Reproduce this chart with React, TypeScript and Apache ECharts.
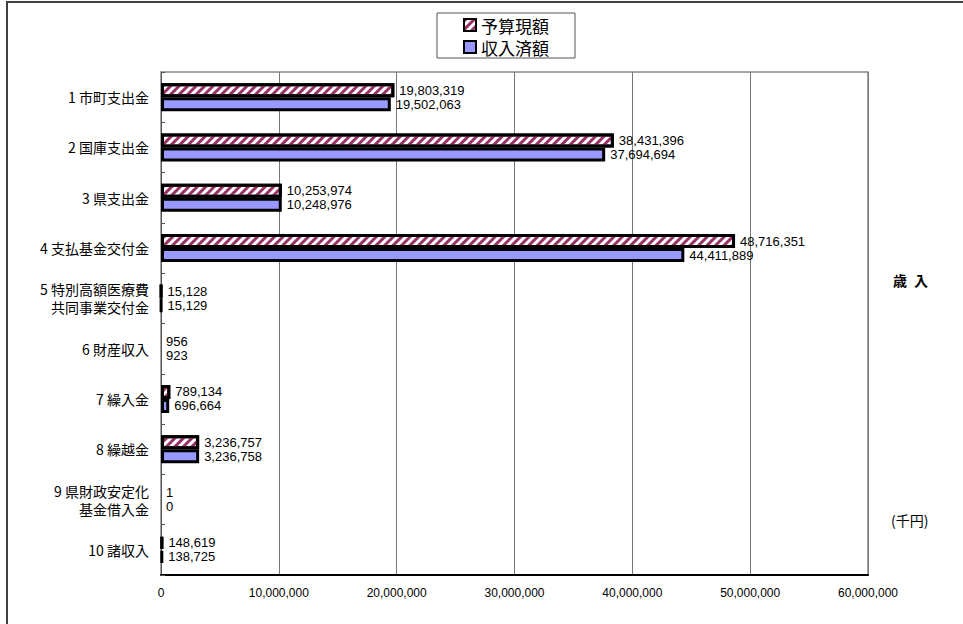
import React, { useEffect, useRef } from "react";
import * as echarts from "echarts";

const categories = [
  "1 市町支出金",
  "2 国庫支出金",
  "3 県支出金",
  "4 支払基金交付金",
  "5 特別高額医療費\n共同事業交付金",
  "6 財産収入",
  "7 繰入金",
  "8 繰越金",
  "9 県財政安定化\n基金借入金",
  "10 諸収入",
];
const budgetValues = [19803319, 38431396, 10253974, 48716351, 15128, 956, 789134, 3236757, 1, 148619];
const receivedValues = [19502063, 37694694, 10248976, 44411889, 15129, 923, 696664, 3236758, 0, 138725];
const seriesNames = ["予算現額", "収入済額"];
const xTicks = [0, 10000000, 20000000, 30000000, 40000000, 50000000, 60000000];

const fmt = (v: number) => v.toLocaleString("en-US");
const CJK = '"Noto Sans CJK JP", sans-serif';
const NUM = '"Liberation Sans", Arial, sans-serif';

export default function App() {
  const ref = useRef<HTMLDivElement>(null);
  useEffect(() => {
    document.body.style.margin = "0";
    document.body.style.overflow = "hidden";
    if (!ref.current) return;
    const chart = echarts.init(ref.current, undefined, { renderer: "svg" });
    const toData = (arr: number[]) =>
      arr.map((v) => (v < 1000 ? { value: v, itemStyle: { borderWidth: 0 } } : { value: v }));
    const label = {
      show: true,
      position: "right" as const,
      distance: 5,
      color: "#000",
      fontSize: 13,
      fontFamily: NUM,
      formatter: (p: any) => fmt(p.value),
    };
    chart.setOption({
      animation: false,
      backgroundColor: "#fff",
      graphic: [
        {
          type: "rect",
          shape: { x: 7, y: 2, width: 2000, height: 2000 },
          style: { fill: "none", stroke: "#404040", lineWidth: 2 },
          silent: true,
        },
        {
          type: "text",
          left: 893,
          top: 273,
          style: { text: "歳", font: `bold 14px ${CJK}`, fill: "#000" },
        },
        {
          type: "text",
          left: 914,
          top: 273,
          style: { text: "入", font: `bold 14px ${CJK}`, fill: "#000" },
        },
        {
          type: "text",
          left: 891,
          top: 513,
          style: { text: "(千円)", font: `14px ${CJK}`, fill: "#000" },
        },
      ],
      legend: {
        left: 437,
        top: 13,
        orient: "vertical",
        padding: [3, 26, 2, 26],
        itemGap: 4,
        itemWidth: 12,
        itemHeight: 12,
        borderColor: "#555",
        borderWidth: 1,
        backgroundColor: "#fff",
        icon: "rect",
        itemStyle: { borderWidth: 2, borderColor: "#000" },
        textStyle: { fontSize: 17, lineHeight: 18, fontFamily: CJK, color: "#000" },
        data: seriesNames,
      },
      grid: {
        left: 161,
        top: 72,
        right: 95,
        bottom: 49,
        show: true,
        borderColor: "#888",
        borderWidth: 1.5,
        containLabel: false,
      },
      xAxis: {
        type: "value",
        min: xTicks[0],
        max: xTicks[xTicks.length - 1],
        interval: xTicks[1] - xTicks[0],
        axisLine: { show: true, lineStyle: { color: "#000", width: 2 } },
        axisTick: { show: false },
        splitLine: { show: true, lineStyle: { color: "#777", width: 1 } },
        axisLabel: {
          margin: 12,
          fontSize: 12,
          fontFamily: NUM,
          color: "#000",
          formatter: (v: number) => fmt(v),
        },
      },
      yAxis: {
        type: "category",
        inverse: true,
        data: categories,
        axisLine: { show: true, lineStyle: { color: "#555", width: 1 } },
        axisTick: { show: true, inside: true, length: 4, lineStyle: { color: "#555" } },
        axisLabel: {
          margin: 12,
          fontSize: 14,
          lineHeight: 18,
          fontFamily: CJK,
          color: "#000",
          align: "right",
        },
      },
      series: [
        {
          name: seriesNames[0],
          type: "bar",
          data: toData(budgetValues),
          barWidth: 14,
          barGap: "0%",
          itemStyle: {
            color: "#fff",
            borderColor: "#000",
            borderWidth: 3,
            decal: {
              symbol: "rect",
              symbolSize: 1,
              color: "#993366",
              dashArrayX: [1, 0],
              dashArrayY: [3, 3],
              rotation: -Math.PI / 4,
            },
          },
          label: { ...label },
        },
        {
          name: seriesNames[1],
          type: "bar",
          data: toData(receivedValues),
          barWidth: 14,
          barGap: "0%",
          itemStyle: { color: "#9999ff", borderColor: "#000", borderWidth: 3 },
          label: { ...label },
        },
      ],
    });
    return () => chart.dispose();
  }, []);
  return <div ref={ref} style={{ width: 963, height: 624 }} />;
}
